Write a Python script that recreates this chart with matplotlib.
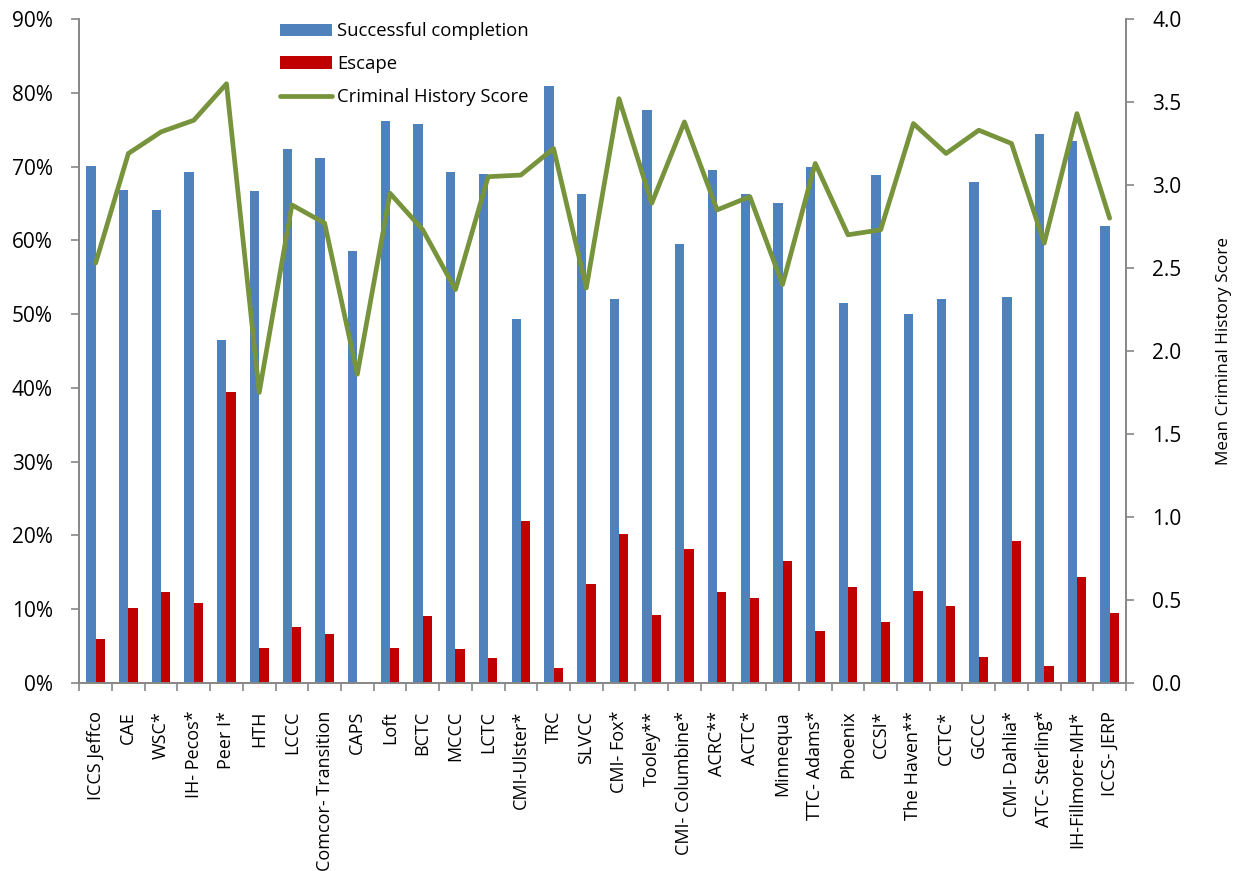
import matplotlib
matplotlib.use("Agg")
import matplotlib.pyplot as plt
import numpy as np
from matplotlib.ticker import FuncFormatter, MultipleLocator, FixedLocator

plt.rcParams['font.family'] = ['Open Sans', 'DejaVu Sans']

categories = ["ICCS Jeffco", "CAE", "WSC*", "IH- Pecos*", "Peer I*", "HTH", "LCCC",
              "Comcor- Transition", "CAPS", "Loft", "BCTC", "MCCC", "LCTC", "CMI-Ulster*",
              "TRC", "SLVCC", "CMI- Fox*", "Tooley**", "CMI- Columbine*", "ACRC**", "ACTC*",
              "Minnequa", "TTC- Adams*", "Phoenix", "CCSI*", "The Haven**", "CCTC*", "GCCC",
              "CMI- Dahlia*", "ATC- Sterling*", "IH-Fillmore-MH*", "ICCS- JERP"]

successful = [70.1, 66.8, 64.1, 69.2, 46.5, 66.7, 72.4, 71.1, 58.6, 76.2, 75.8, 69.2,
              69.0, 49.3, 80.9, 66.3, 52.1, 77.7, 59.5, 69.6, 66.3, 65.1, 70.0, 51.5,
              68.8, 50.0, 52.0, 67.9, 52.3, 74.4, 73.5, 61.9]

escape = [5.9, 10.2, 12.3, 10.9, 39.5, 4.7, 7.6, 6.7, 0.0, 4.7, 9.1, 4.6,
          3.4, 21.9, 2.0, 13.4, 20.2, 9.2, 18.2, 12.3, 11.5, 16.6, 7.1, 13.0,
          8.3, 12.5, 10.4, 3.5, 19.3, 2.3, 14.3, 9.5]

crim_score = [2.53, 3.19, 3.32, 3.39, 3.61, 1.75, 2.88, 2.77, 1.86, 2.95, 2.73, 2.37,
              3.05, 3.06, 3.22, 2.38, 3.52, 2.89, 3.38, 2.85, 2.93, 2.40, 3.13, 2.70,
              2.73, 3.37, 3.19, 3.33, 3.25, 2.65, 3.43, 2.80]

blue = "#4F81BD"
red = "#C00000"
green = "#77933C"
gray = "#868686"

fig = plt.figure(figsize=(12.33, 8.71), dpi=100)
ax = fig.add_axes([79.3/1233, 1-683/871, (1126-79.3)/1233, (683-19)/871])
ax2 = ax.twinx()

x = np.arange(len(categories))
w = 0.285
ax.bar(x - w/2, successful, width=w, color=blue, label="Successful completion", zorder=2)
ax.bar(x + w/2, escape, width=w, color=red, label="Escape", zorder=2)
ax2.plot(x, crim_score, color=green, linewidth=3.4, solid_joinstyle='round',
         solid_capstyle='round', label="Criminal History Score", zorder=3)

ax.set_xlim(-0.5, len(categories) - 0.5)
ax.set_ylim(0, 90)
ax2.set_ylim(0, 4.0)

ax.yaxis.set_major_locator(MultipleLocator(10))
ax.yaxis.set_major_formatter(FuncFormatter(lambda v, p: f"{v:.0f}%"))
ax2.yaxis.set_major_locator(MultipleLocator(0.5))
ax2.yaxis.set_major_formatter(FuncFormatter(lambda v, p: f"{v:.1f}"))

ax.set_xticks(x)
ax.set_xticklabels(categories, rotation=90, fontsize=13)
ax.xaxis.set_minor_locator(FixedLocator(np.arange(-0.5, len(categories), 1.0)))
ax.tick_params(axis='x', which='major', length=0, pad=20)
ax.tick_params(axis='x', which='minor', length=6, width=1.2, color=gray, direction='out')
ax.tick_params(axis='y', which='major', length=6, width=1.2, color=gray, direction='out',
               labelsize=15, pad=13)
ax2.tick_params(axis='y', which='major', length=6, width=1.2, color=gray, direction='out',
                labelsize=15, pad=13)

for a in (ax, ax2):
    a.spines['top'].set_visible(False)
    for s in ('left', 'right', 'bottom'):
        a.spines[s].set_color(gray)
        a.spines[s].set_linewidth(1.2)

ax2.set_ylabel("Mean Criminal History Score", fontsize=12.3)
ax2.yaxis.set_label_coords((1216-79.3)/(1126-79.3), 0.5)

h1, l1 = ax.get_legend_handles_labels()
h2, l2 = ax2.get_legend_handles_labels()
leg = ax2.legend(h1 + h2, l1 + l2, loc='upper left',
                 bbox_to_anchor=((263-79.3)/(1126-79.3), 1.02),
                 frameon=False, fontsize=13.3, handlelength=2.85, handleheight=0.65,
                 labelspacing=0.8, handletextpad=0.25)

fig.savefig("out.png", dpi=100)
